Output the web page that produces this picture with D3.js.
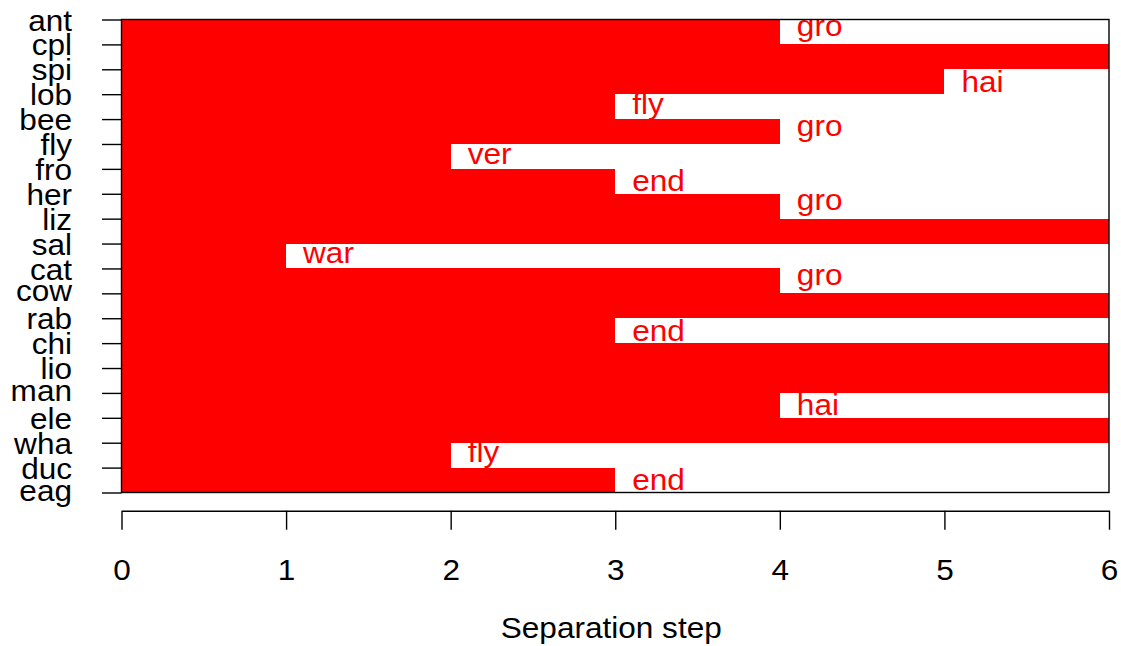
<!DOCTYPE html>
<html>
<head>
<meta charset="utf-8">
<script src="https://cdn.jsdelivr.net/npm/d3@7"></script>
<style>
  html, body { margin: 0; padding: 0; background: #fff; }
  svg { display: block; }
  text { font-family: "Liberation Sans", Arial, Helvetica, sans-serif; }
</style>
</head>
<body>
<svg id="chart" width="1121" height="646"></svg>
<script>
// Taxa, top to bottom
const taxa = ["ant","cpl","spi","lob","bee","fly","fro","her","liz","sal",
              "cat","cow","rab","chi","lio","man","ele","wha","duc","eag"];
// Step at which each neighbouring pair separates (one per gap between taxa)
const steps = [4, 6, 5, 3, 4, 2, 3, 4, 6, 1, 4, 6, 3, 6, 6, 4, 6, 2, 3];
// Trait that splits the pair ("" when the pair never splits)
const traits = ["gro", "", "hai", "fly", "gro", "ver", "end", "gro", "", "war",
                "gro", "", "end", "", "", "hai", "", "fly", "end"];
const xTicks = [0, 1, 2, 3, 4, 5, 6];
const xTitle = "Separation step";

const FS = 29.5;    // font size
const SX = 1.07;    // horizontal glyph stretch
const RED = "#ff0000";

const svg = d3.select("#chart");
const plotL = 121.5, plotR = 1109, plotT = 19.5, plotB = 492.5;

const x = d3.scaleLinear().domain([0, 6]).range([plotL, plotR]);
const y = d3.scalePoint().domain(taxa).range([plotT, plotB]);

// ink-based vertical offsets (baseline shift from the anchor y)
const asc = s => (/[bdfhiklt]/.test(s) ? 0.716 : 0.519) * FS;
const desc = s => (/[gjpqy]/.test(s) ? 0.21 : 0) * FS;

// separation bars: one band between each pair of neighbouring taxa
const bands = steps.map((v, i) => ({ v, t: traits[i], y0: y(taxa[i]), y1: y(taxa[i + 1]) }));

svg.append("g").selectAll("rect").data(bands).join("rect")
  .attr("x", x(0))
  .attr("y", d => d.y0)
  .attr("width", d => x(d.v) - x(0))
  .attr("height", d => d.y1 - d.y0)
  .attr("fill", RED)
  .attr("shape-rendering", "crispEdges");

// trait labels just right of each bar end, centred in the band
svg.append("g").selectAll("text").data(bands.filter(d => d.t)).join("text")
  .attr("transform", d => {
    const cy = (d.y0 + d.y1) / 2 - 0.5;
    const base = cy + (asc(d.t) - desc(d.t)) / 2;
    return `translate(${x(d.v) + 17},${base}) scale(${SX},1)`;
  })
  .attr("fill", RED)
  .attr("font-size", FS)
  .text(d => d.t);

// plot frame
svg.append("rect")
  .attr("x", plotL).attr("y", plotT)
  .attr("width", plotR - plotL).attr("height", plotB - plotT)
  .attr("fill", "none").attr("stroke", "#000").attr("stroke-width", 1.4);

// y axis: taxa names
const yAxis = svg.append("g")
  .attr("transform", `translate(${plotL},0)`)
  .call(d3.axisLeft(y).tickSize(19.5).tickPadding(30).tickSizeOuter(0));
yAxis.select(".domain").remove();
yAxis.selectAll(".tick line").attr("stroke", "#000").attr("stroke-width", 1.4);
yAxis.selectAll(".tick text")
  .attr("font-size", FS).attr("fill", "#000")
  .attr("dy", null)
  .attr("x", 0)
  .attr("transform", d => `translate(-49.5,${asc(d) / 2}) scale(${SX},1)`);
yAxis.attr("font-family", null);

// x axis
const axisY = 510.7;
const xAxis = svg.append("g")
  .attr("transform", `translate(0,${axisY})`)
  .call(d3.axisBottom(x).tickValues(xTicks).tickFormat(d3.format("d"))
          .tickSize(19).tickSizeOuter(0).tickPadding(29));
xAxis.attr("font-family", null);
xAxis.select(".domain").attr("stroke", "#000").attr("stroke-width", 1.4);
xAxis.selectAll(".tick line").attr("stroke", "#000").attr("stroke-width", 1.4);
xAxis.selectAll(".tick text")
  .attr("font-size", FS).attr("fill", "#000")
  .attr("transform", `scale(${SX},1)`);

// axis title
svg.append("text")
  .attr("transform", `translate(${(plotL + plotR) / 2 - 4},638) scale(${SX},1)`)
  .attr("text-anchor", "middle")
  .attr("font-size", FS)
  .attr("fill", "#000")
  .text(xTitle);
</script>
</body>
</html>
